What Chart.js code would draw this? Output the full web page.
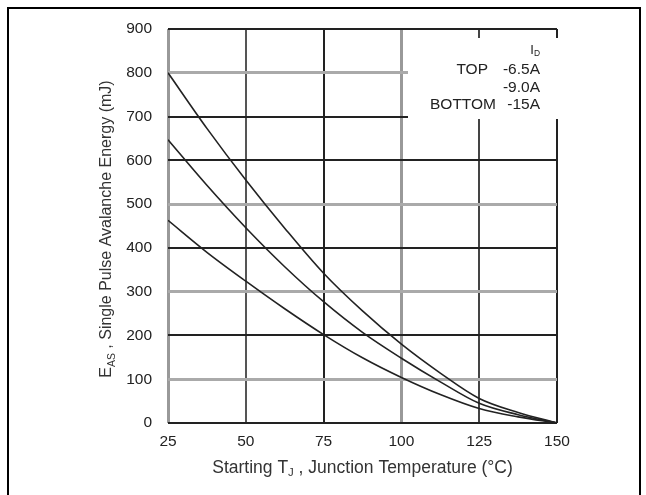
<!DOCTYPE html>
<html lang="en">
<head>
<meta charset="UTF-8">
<title>Single Pulse Avalanche Energy vs Temperature</title>
<script src="https://cdn.jsdelivr.net/npm/chart.js"></script>
<style>
  html, body { margin: 0; padding: 0; background: #fff; }
  #wrap { position: relative; width: 646px; height: 495px; }
</style>
</head>
<body>
<div id="wrap"><canvas id="eas-chart" width="646" height="495"></canvas></div>
<script>
// Starting junction temperature (°C)
const tempC = [25, 37.5, 50, 62.5, 75, 87.5, 100, 112.5, 125, 137.5, 150];

// E_AS (mJ) for each drain current
const easTop = [800, 673, 555, 445, 342, 256, 180, 114, 56, 24, 0];
const easMid = [647, 543, 446, 357, 277, 207, 148, 94, 45, 19, 0];
const easBottom = [463, 390, 324, 261, 202, 149, 104, 65, 33, 14, 0];

const currentLabels = ['-6.5A', '-9.0A', '-15A'];
const rankLabels = ['TOP', '', 'BOTTOM'];

const xTicks = [25, 50, 75, 100, 125, 150];
const yTicks = [0, 100, 200, 300, 400, 500, 600, 700, 800, 900];

const FONT = '"Liberation Sans", Arial, sans-serif';

// grid lines alternate between dark and light grey strokes
const yGridColor = ['#222', '#aaa', '#222', '#aaa', '#222', '#aaa', '#222', '#222', '#aaa', '#222'];
const yGridWidth = [2, 3, 2, 3, 2, 3, 2, 2, 3, 2];
const xGridColor = ['#999', '#555', '#222', '#999', '#444', '#222'];
const xGridWidth = [3, 2, 2, 3, 2, 2];

function toPoints(vals) {
    return tempC.map((t, i) => ({ x: t, y: vals[i] }));
}

// draws a run of text pieces, some of them as subscripts
function drawParts(ctx, parts, x, y, align, size) {
    const subSize = size * 0.65;
    const widths = parts.map(p => {
        ctx.font = (p[1] ? subSize : size) + 'px ' + FONT;
        return ctx.measureText(p[0]).width;
    });
    const total = widths.reduce((a, b) => a + b, 0);
    let cx = x;
    if (align === 'center') cx = x - total / 2;
    if (align === 'right') cx = x - total;
    ctx.textAlign = 'left';
    ctx.textBaseline = 'middle';
    parts.forEach((p, i) => {
        ctx.font = (p[1] ? subSize : size) + 'px ' + FONT;
        ctx.fillText(p[0], cx, p[1] ? y + size * 0.3 : y);
        cx += widths[i];
    });
}

const decorations = {
    id: 'decorations',
    beforeDatasetsDraw(chart) {
        // blank panel behind the current legend
        const ctx = chart.ctx;
        ctx.save();
        ctx.fillStyle = '#fff';
        ctx.fillRect(408, 38, 151, 81);
        ctx.restore();
    },
    afterDraw(chart) {
        const ctx = chart.ctx;
        const area = chart.chartArea;
        ctx.save();

        // outer frame, open at the bottom
        ctx.strokeStyle = '#000';
        ctx.lineWidth = 2;
        ctx.beginPath();
        ctx.moveTo(8, 495);
        ctx.lineTo(8, 8);
        ctx.lineTo(640, 8);
        ctx.lineTo(640, 495);
        ctx.stroke();

        ctx.fillStyle = '#333';
        drawParts(ctx, [['Starting T', 0], ['J', 1], [' , Junction Temperature (°C)', 0]],
            (area.left + area.right) / 2, 468, 'center', 17.5);

        ctx.save();
        ctx.translate(107, (area.top + area.bottom) / 2 + 3);
        ctx.rotate(-Math.PI / 2);
        drawParts(ctx, [['E', 0], ['AS', 1], [' , Single Pulse Avalanche Energy (mJ)', 0]],
            0, 0, 'center', 16);
        ctx.restore();

        // legend
        ctx.fillStyle = '#222';
        drawParts(ctx, [['I', 0], ['D', 1]], 540, 50, 'right', 13);
        const rowY = [70, 88, 105];
        const rankRight = [488, 488, 496];
        currentLabels.forEach((lbl, i) => {
            drawParts(ctx, [[lbl, 0]], 540, rowY[i], 'right', 15.5);
            if (rankLabels[i]) drawParts(ctx, [[rankLabels[i], 0]], rankRight[i], rowY[i], 'right', 15.5);
        });
        ctx.restore();
    }
};

const lineStyle = {
    borderColor: '#222',
    borderWidth: 1.6,
    pointRadius: 0,
    fill: false,
    cubicInterpolationMode: 'monotone'
};

new Chart(document.getElementById('eas-chart'), {
    type: 'line',
    data: {
        datasets: [
            Object.assign({ label: currentLabels[0], data: toPoints(easTop) }, lineStyle),
            Object.assign({ label: currentLabels[1], data: toPoints(easMid) }, lineStyle),
            Object.assign({ label: currentLabels[2], data: toPoints(easBottom) }, lineStyle)
        ]
    },
    options: {
        responsive: false,
        animation: false,
        devicePixelRatio: 1,
        layout: { padding: { top: 29, right: 89, left: 0, bottom: 0 } },
        plugins: {
            legend: { display: false },
            tooltip: { enabled: false }
        },
        scales: {
            x: {
                type: 'linear',
                min: xTicks[0],
                max: xTicks[xTicks.length - 1],
                afterFit: s => { s.height = 72; },
                afterBuildTicks: s => { s.ticks = xTicks.map(v => ({ value: v })); },
                ticks: {
                    padding: 9,
                    color: '#222',
                    maxRotation: 0,
                    autoSkip: false,
                    font: { family: FONT, size: 15.5 }
                },
                grid: {
                    drawTicks: false,
                    color: c => xGridColor[c.index],
                    lineWidth: c => xGridWidth[c.index]
                },
                border: { display: false }
            },
            y: {
                min: yTicks[0],
                max: yTicks[yTicks.length - 1],
                afterFit: s => { s.width = 168; },
                afterBuildTicks: s => { s.ticks = yTicks.map(v => ({ value: v })); },
                ticks: {
                    padding: 16,
                    color: '#222',
                    autoSkip: false,
                    font: { family: FONT, size: 15.5 }
                },
                grid: {
                    drawTicks: false,
                    color: c => yGridColor[c.index],
                    lineWidth: c => yGridWidth[c.index]
                },
                border: { display: false }
            }
        }
    },
    plugins: [decorations]
});
</script>
</body>
</html>
